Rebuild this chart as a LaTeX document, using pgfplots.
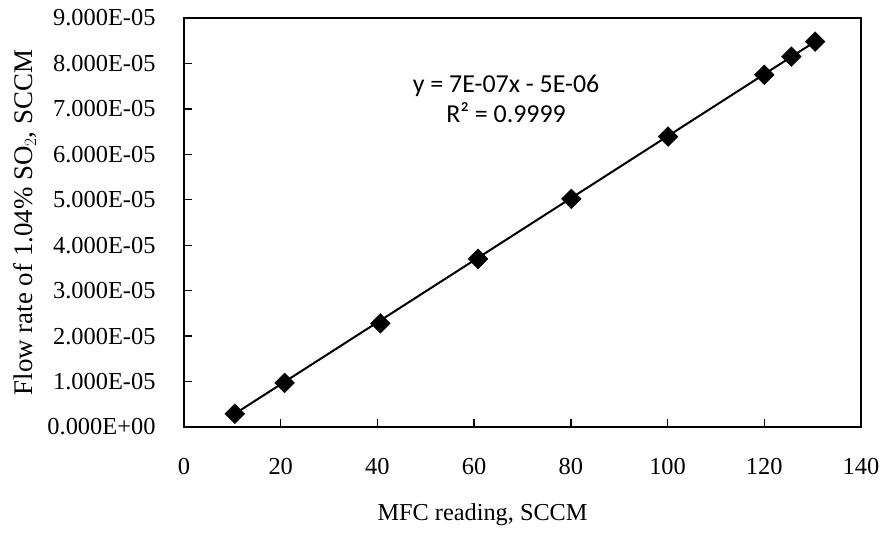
\documentclass[border=0pt]{standalone}
\usepackage{pgfplots}
\pgfplotsset{compat=1.18}
\usepackage{fontspec}
\setmainfont{Liberation Serif}
\newfontfamily\calibri{Carlito}

\begin{document}
\begin{tikzpicture}[x=1bp,y=1bp]
\useasboundingbox (0,0) rectangle (885,537);
\begin{axis}[
    at={(184bp,110bp)}, anchor=south west,
    scale only axis,
    width=677bp, height=409bp,
    xmin=0, xmax=140, ymin=0, ymax=9e-5,
    xtick={0,20,...,140},
    ytick={0,1e-5,2e-5,3e-5,4e-5,5e-5,6e-5,7e-5,8e-5,9e-5},
    yticklabels={0.000E+00,1.000E-05,2.000E-05,3.000E-05,4.000E-05,5.000E-05,6.000E-05,7.000E-05,8.000E-05,9.000E-05},
    scaled y ticks=false,
    /pgf/number format/assume math mode=true,
    tick align=inside, xtick pos=left, ytick pos=left,
    major tick length=8bp,
    tick style={line width=1.4bp, black},
    axis line style={line width=2.2bp},
    ticklabel style={font=\fontsize{24.5}{28}\selectfont},
    xticklabel style={yshift=-28bp},
    yticklabel style={xshift=-25bp},
    xlabel={MFC reading, SCCM},
    ylabel={Flow rate of 1.04\% SO$_2$, SCCM},
    xlabel style={font=\fontsize{24.4}{27}\selectfont, at={(axis description cs:0.441,-0.215)}, anchor=center},
    ylabel style={font=\fontsize{27}{30}\selectfont, at={(axis description cs:-0.235,0.5)}, anchor=center},
    clip=false,
]
% linear trendline
\addplot[black, line width=2bp] coordinates {(10.5,2.9e-6) (130.5,8.48e-5)};
% measured points
\addplot[only marks, mark=square*, mark size=7bp, mark options={rotate=45, fill=black, draw=black}]
coordinates {
    (10.5,2.9e-6) (20.8,9.7e-6) (40.6,2.28e-5) (60.8,3.70e-5) (80.1,5.02e-5)
    (100.1,6.39e-5) (120.0,7.75e-5) (125.6,8.15e-5) (130.5,8.48e-5)
};
\node[anchor=base, font=\calibri\fontsize{26}{30}\selectfont] at (axis cs:66.6,7.357e-5) {y = 7E-07x - 5E-06};
\node[anchor=base, font=\calibri\fontsize{26}{30}\selectfont] at (axis cs:66.6,6.696e-5) {R² = 0.9999};
\end{axis}
\end{tikzpicture}
\end{document}
